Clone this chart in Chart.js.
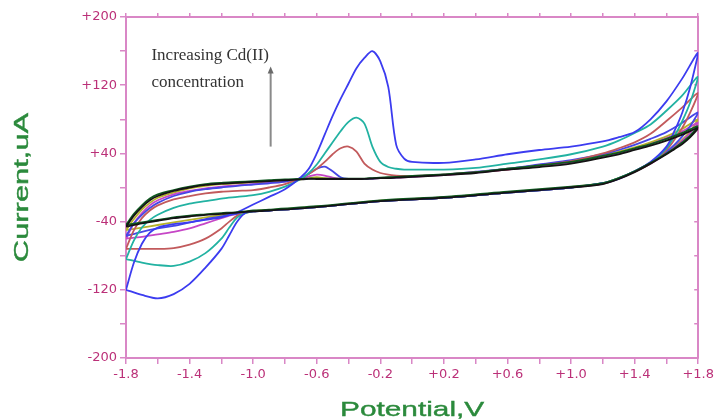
<!DOCTYPE html>
<html>
<head>
<meta charset="utf-8">
<script src="https://cdn.jsdelivr.net/npm/chart.js@4.4.1/dist/chart.umd.min.js"></script>
<style>
  html, body { margin: 0; padding: 0; background: #fff; }
</style>
</head>
<body>
<canvas id="cvChart" width="717" height="420"></canvas>
<script>
// potential grid (V) for the forward (upper) and reverse (lower) sweeps
const potentialUp = [-1.8, -1.75, -1.7, -1.65, -1.6, -1.5, -1.4, -1.3, -1.2, -1.1, -1.0, -0.9, -0.8, -0.7, -0.65, -0.6, -0.55, -0.5, -0.45, -0.4,
  -0.35, -0.3, -0.25, -0.2, -0.15, -0.1, -0.05, 0, 0.2, 0.4, 0.6, 0.8, 1.0, 1.2, 1.3, 1.4, 1.5, 1.6, 1.7, 1.8];
const potentialDown = [1.8, 1.75, 1.7, 1.65, 1.6, 1.5, 1.4, 1.3, 1.2, 1.0, 0.6, 0.2, -0.2, -0.6, -0.9, -1.0, -1.05, -1.1, -1.15, -1.2,
  -1.3, -1.4, -1.5, -1.6, -1.7, -1.8];

// current (uA), one pair per voltammogram
const blackUp = [-46, -33, -23, -15, -10, -4, 0, 3, 4.5, 5.5, 6.5, 7.5, 8.5, 9.5, 10, 10, 10, 10, 10, 10,
  10, 10, 10.5, 11, 11, 11.5, 12, 12.5, 14.5, 17, 21, 24, 28, 35, 39, 44, 49, 55, 62, 70];
const blackDown = [70, 59, 51, 45, 39, 28, 18, 10, 4, 0, -6, -12, -16, -23, -27, -28, -28.5, -29.5, -30, -31,
  -32, -34, -36, -39, -42, -46];
const greenUp = [-44, -31, -21, -13, -8, -3, 1, 4, 5.5, 6.5, 7.5, 8.5, 9.5, 10, 10.5, 10.5, 10.5, 10.5, 10.5, 10.5,
  10.5, 10.5, 11, 11.5, 12, 12.5, 13, 13.5, 15.5, 18, 22, 26, 30, 37, 41, 46, 51, 57, 64, 72];
const greenDown = [72, 61, 53, 46, 40, 29, 19, 11, 5, 1, -5, -11, -15, -22, -26, -27, -28, -29, -29.5, -30,
  -31.5, -33, -35, -38, -41, -44];
const oliveUp = [-50, -37, -26, -18, -12, -6, -1, 2, 4, 5, 6, 7, 8, 9.5, 11, 12, 11, 10, 10, 10,
  10, 10, 10.5, 11, 11.5, 12, 12.5, 13, 15, 18, 22, 26, 30, 38, 42, 47, 53, 60, 69, 80];
const oliveDown = [80, 66, 56, 48, 41, 29, 19, 11, 5, 0.5, -5.5, -11.5, -15.5, -22.5, -26.5, -27.5, -28.5, -30, -31, -32.5,
  -35, -38, -41, -44, -47, -50];
const magentaUp = [-60, -42, -30, -21, -15, -8, -4, -1, 1, 2.5, 4, 5.5, 7, 10, 13, 15, 14, 11.5, 10, 10,
  10, 10, 10.5, 11, 11, 11.5, 12, 12.5, 14.5, 17.5, 21, 25, 29, 36, 40, 45, 51, 58, 66, 76];
const magentaDown = [76, 64, 55, 47, 40, 28, 18.5, 10.5, 4.5, 0, -6, -12, -16, -23, -27, -28, -29, -31, -33, -36,
  -42, -48, -52, -55, -58, -60];
const smallBlueUp = [-57, -42, -32, -24, -18, -10, -5, -2, 0, 2, 3.5, 5, 7, 11, 16, 22, 24.5, 19, 12, 10,
  10, 10, 10.5, 11, 11.5, 12, 12.5, 13, 15, 18.5, 22, 27, 32, 39, 44, 50, 57, 65, 76, 88];
const smallBlueDown = [88, 72, 60, 50, 42, 29, 19, 11, 5, 0, -6, -12, -16, -23, -27, -28, -29, -31, -32, -34,
  -37, -41, -45, -48, -52, -57];
const redUp = [-72, -50, -36, -27, -21, -14, -10, -7, -5, -4, -3, 0, 4, 11, 16, 22, 30, 39, 46, 48,
  42, 28, 21, 17, 15, 14, 13.5, 13.5, 15, 18, 21, 26, 31, 40, 46, 53, 63, 78, 94, 111];
const redDown = [111, 88, 70, 56, 44, 28, 18.5, 10.5, 4.5, 0, -6, -12, -16, -23, -27, -28, -30, -33, -40, -48,
  -60, -67, -71, -72, -72, -72];
const cyanUp = [-84, -62, -47, -38, -32, -24, -19, -16, -13, -11, -9, -5, 1, 10, 17, 27, 40, 53, 66, 77,
  82, 75, 48, 30, 24, 22, 21, 21, 21, 23, 28, 33, 39, 48, 55, 64, 74, 90, 108, 130];
const cyanDown = [130, 100, 78, 60, 46, 29, 19, 11, 5, 0, -6, -12, -16, -23, -27, -28, -30, -35, -47, -60,
  -77, -87, -92, -91, -88, -84];
const bigBlueUp = [-120, -88, -66, -53, -47, -43, -41, -38, -35, -29, -20, -11, -2, 12, 22, 40, 62, 84, 104, 122,
  140, 152, 160, 148, 118, 50, 34, 30, 29, 33, 39, 44, 48, 54, 59, 65, 80, 101, 128, 158];
const bigBlueDown = [158, 118, 88, 66, 48, 30, 19, 10, 5, 0, -6, -12, -16, -23, -27, -28, -30, -40, -56, -72,
  -94, -113, -125, -130, -126, -120];

const xTicks = [-1.8, -1.4, -1.0, -0.6, -0.2, 0.2, 0.6, 1.0, 1.4, 1.8];
const yTicks = [-200, -120, -40, 40, 120, 200];

const pink = '#d987c6';
const tickColor = '#bb3078';
const titleColor = '#2b8a3c';

function loop(up, down) {
  const pts = potentialUp.map((x, i) => ({ x: x, y: up[i] }));
  for (let i = 1; i < potentialDown.length; i++) pts.push({ x: potentialDown[i], y: down[i] });
  return pts;
}

function curve(label, up, down, color) {
  return {
    label: label,
    data: loop(up, down),
    borderColor: color,
    borderWidth: 1.8,
    pointRadius: 0,
    showLine: true,
    tension: 0.3,
    fill: false
  };
}

function signed(v) {
  const r = Math.round(v * 10) / 10;
  const s = Number.isInteger(r) && Math.abs(r) >= 10 ? String(Math.abs(r)) : Math.abs(r).toFixed(1);
  return (r > 0 ? '+' : '-') + s;
}

const axisTitles = {
  id: 'axisTitles',
  afterDraw(chart) {
    const { ctx, chartArea } = chart;
    ctx.save();
    ctx.fillStyle = titleColor;
    ctx.strokeStyle = titleColor;
    ctx.lineWidth = 0.4;
    ctx.font = '21px "Liberation Sans", Arial, sans-serif';
    ctx.textAlign = 'center';
    ctx.textBaseline = 'alphabetic';
    ctx.save();
    ctx.translate((chartArea.left + chartArea.right) / 2, 416);
    ctx.scale(1.42, 1);
    ctx.fillText('Potential,V', 0, 0);
    ctx.strokeText('Potential,V', 0, 0);
    ctx.restore();
    ctx.save();
    ctx.translate(28, (chartArea.top + chartArea.bottom) / 2);
    ctx.rotate(-Math.PI / 2);
    ctx.scale(1.47, 1);
    ctx.fillText('Current,uA', 0, 0);
    ctx.strokeText('Current,uA', 0, 0);
    ctx.restore();
    ctx.restore();
  }
};

const note = {
  id: 'note',
  afterDatasetsDraw(chart) {
    const { ctx } = chart;
    const x = chart.scales.x, y = chart.scales.y;
    ctx.save();
    ctx.fillStyle = '#333333';
    ctx.font = '17px "Liberation Serif", "Times New Roman", serif';
    ctx.textBaseline = 'alphabetic';
    ctx.fillText('Increasing Cd(II)', x.getPixelForValue(-1.64), y.getPixelForValue(150));
    ctx.fillText('concentration', x.getPixelForValue(-1.64), y.getPixelForValue(118));
    // arrow
    const ax = x.getPixelForValue(-0.89);
    const y0 = y.getPixelForValue(48), y1 = y.getPixelForValue(142);
    ctx.strokeStyle = '#8a8a8a';
    ctx.fillStyle = '#6a6a6a';
    ctx.lineWidth = 2;
    ctx.beginPath();
    ctx.moveTo(ax, y0);
    ctx.lineTo(ax, y1 + 4);
    ctx.stroke();
    ctx.beginPath();
    ctx.moveTo(ax, y1);
    ctx.lineTo(ax - 3, y1 + 7);
    ctx.lineTo(ax + 3, y1 + 7);
    ctx.closePath();
    ctx.fill();
    ctx.restore();
  }
};

const data = {
  datasets: [
    curve('0', blackUp, blackDown, '#141414'),
    curve('0b', greenUp, greenDown, '#0e5a20'),
    curve('bigBlue', bigBlueUp, bigBlueDown, '#3c3cf0'),
    curve('cyan', cyanUp, cyanDown, '#22b2a2'),
    curve('red', redUp, redDown, '#c25a5c'),
    curve('smallBlue', smallBlueUp, smallBlueDown, '#4646e6'),
    curve('magenta', magentaUp, magentaDown, '#c646c6'),
    curve('olive', oliveUp, oliveDown, '#b6b22a')
  ]
};

const config = {
  type: 'scatter',
  data: data,
  options: {
    responsive: false,
    animation: false,
    layout: { padding: 0 },
    plugins: {
      legend: { display: false },
      tooltip: { enabled: false }
    },
    scales: {
      x: {
        type: 'linear',
        position: 'bottom',
        min: -1.8,
        max: 1.8,
        afterFit: s => { s.height = 62; },
        ticks: {
          stepSize: 0.2,
          autoSkip: false,
          maxRotation: 0,
          padding: 3,
          color: tickColor,
          font: { family: 'DejaVu Sans', size: 13 },
          callback: v => xTicks.some(t => Math.abs(t - v) < 1e-6) ? signed(v) : ''
        },
        grid: { drawOnChartArea: false, color: pink, lineWidth: 1.5, tickLength: 6 },
        border: { color: pink, width: 2 }
      },
      x2: {
        type: 'linear',
        position: 'top',
        min: -1.8,
        max: 1.8,
        afterFit: s => { s.height = 17; },
        ticks: { stepSize: 0.2, display: false },
        grid: { drawOnChartArea: false, color: pink, lineWidth: 1.5, tickLength: 4 },
        border: { color: pink, width: 2 }
      },
      y: {
        type: 'linear',
        position: 'left',
        min: -200,
        max: 200,
        afterFit: s => { s.width = 126; },
        ticks: {
          stepSize: 40,
          autoSkip: false,
          padding: 3,
          color: tickColor,
          font: { family: 'DejaVu Sans', size: 13 },
          callback: v => yTicks.includes(Math.round(v)) ? signed(v) : ''
        },
        grid: { drawOnChartArea: false, color: pink, lineWidth: 1.5, tickLength: 6 },
        border: { color: pink, width: 2 }
      },
      y2: {
        type: 'linear',
        position: 'right',
        min: -200,
        max: 200,
        afterFit: s => { s.width = 13; },
        ticks: { stepSize: 40, display: false },
        grid: { drawOnChartArea: false, color: pink, lineWidth: 1.5, tickLength: -4 },
        border: { color: pink, width: 2 }
      }
    }
  },
  plugins: [axisTitles, note]
};

const ctx = document.getElementById('cvChart').getContext('2d');
const cvChart = new Chart(ctx, config);
</script>
</body>
</html>
